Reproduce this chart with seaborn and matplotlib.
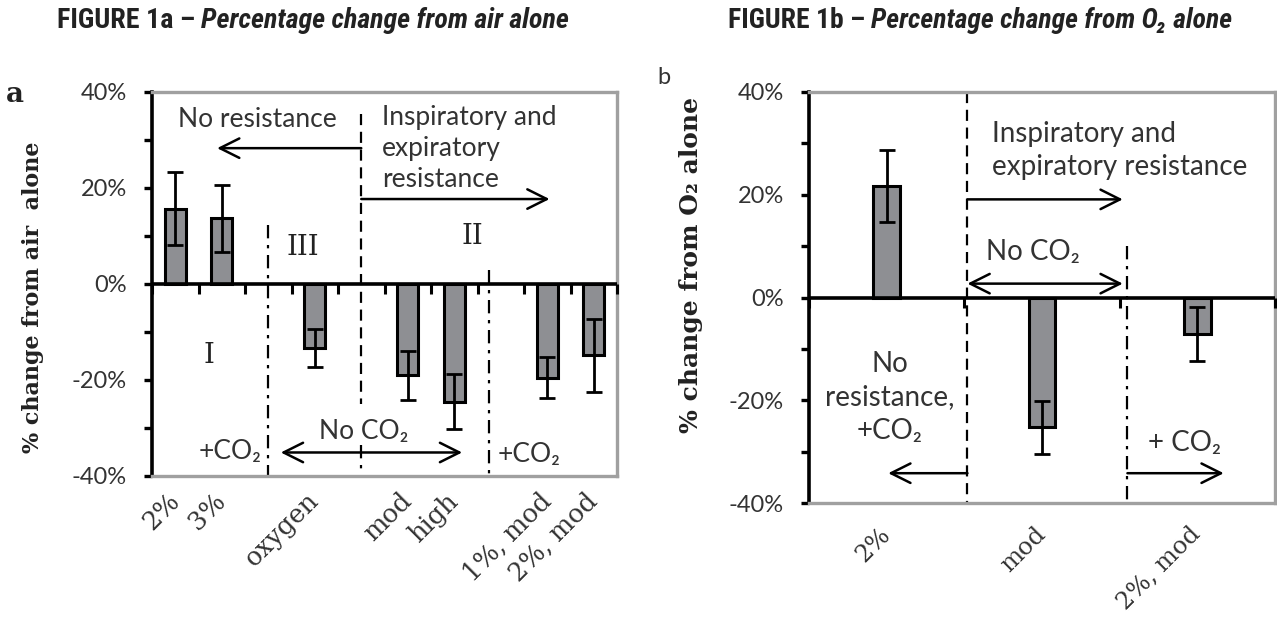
import matplotlib
matplotlib.use("Agg")
import matplotlib.pyplot as plt
import seaborn as sns
import numpy as np
import pandas as pd
from matplotlib.ticker import MultipleLocator, FuncFormatter
from matplotlib import font_manager as fm

# ---------------- data ----------------
a_categories = ["2%", "3%", "oxygen", "mod", "high", "1%, mod", "2%, mod"]
a_values = [15.7, 13.7, -13.3, -19.0, -24.5, -19.5, -14.8]
a_errors = [7.6, 7.0, 3.9, 5.1, 5.7, 4.3, 7.6]
a_order = ["2%", "3%", " ", "oxygen", "  ", "mod", "high", "   ", "1%, mod", "2%, mod"]

b_categories = ["2%", "mod", "2%, mod"]
b_values = [21.7, -25.3, -7.1]
b_errors = [7.1, 5.1, 5.2]
b_order = ["2%", "mod", "2%, mod"]

y_ticks = [-40, -20, 0, 20, 40]

# ---------------- style ----------------
sns.set_theme(style="white")
SANS = ["Lato", "DejaVu Sans"]
SERIF = ["DejaVu Serif"]
installed = {f.name for f in fm.fontManager.ttflist}
NARROW = [n for n in ["Roboto Condensed", "Liberation Sans Narrow", "Arial Narrow"] if n in installed]
NARROW = NARROW + ["Liberation Sans", "DejaVu Sans"]
plt.rcParams["font.family"] = SANS
BAR = "#8e8f93"
GRAY = "#a0a0a0"
TXT = "#333333"

W, H = 1277, 617
fig = plt.figure(figsize=(W / 100, H / 100), dpi=100)
axA = fig.add_axes([152 / W, 1 - 476 / H, 465 / W, 384 / H])
axB = fig.add_axes([809 / W, 1 - 503 / H, 466 / W, 411 / H])


def panel(ax, cats, vals, errs, order, width, ylabel, ylab_x, ylab_y, ylab_size,
          xpad, xsize):
    df = pd.DataFrame({"cat": cats, "val": vals})
    sns.barplot(data=df, x="cat", y="val", order=order, color=BAR, width=width,
                edgecolor="black", linewidth=2.2, errorbar=None, saturation=1,
                ax=ax, zorder=3)
    xs = [order.index(c) for c in cats]
    ax.errorbar(xs, vals, yerr=errs, fmt="none", ecolor="black", elinewidth=2,
                capsize=6, capthick=2, zorder=5)
    n = len(order)
    ax.set_xlim(-0.5, n - 0.5)
    ax.set_ylim(-40, 40)
    ax.set_xlabel("")
    ax.set_ylabel(ylabel, family=SERIF, weight="bold", fontsize=ylab_size, color="#222222")
    ax.yaxis.set_label_coords(ylab_x, ylab_y)
    for s in ["top", "right", "bottom"]:
        ax.spines[s].set_color(GRAY)
        ax.spines[s].set_linewidth(2.4)
    ax.spines["left"].set_color("black")
    ax.spines["left"].set_linewidth(2.6)
    ax.axhline(0, color="black", lw=2.6, zorder=4)
    # tick marks on the zero line at category boundaries
    bounds = np.arange(n + 1) - 0.5
    ax.plot(bounds, np.zeros_like(bounds), ls="none", marker=3, markersize=7,
            mew=2.2, color="black", zorder=4, clip_on=False)
    ax.set_yticks(y_ticks)
    ax.yaxis.set_minor_locator(MultipleLocator(10))
    ax.yaxis.set_major_formatter(FuncFormatter(lambda v, p: f"{v:.0f}%"))
    ax.tick_params(axis="y", which="both", left=True, direction="out", length=6,
                   width=2.4, color="black", labelsize=17, labelcolor=TXT, pad=12)
    ax.tick_params(axis="x", length=0, pad=xpad)
    for lab in ax.get_xticklabels():
        lab.set_rotation(45)
        lab.set_ha("right")
        lab.set_va("center")
        lab.set_rotation_mode("anchor")
        lab.set_family(SERIF)
        lab.set_fontsize(xsize)
        lab.set_color(TXT)
    ax.grid(False)


panel(axA, a_categories, a_values, a_errors, a_order, 0.45,
      "% change from air  alone", -0.232, 0.466, 16, 15, 18.5)
panel(axB, b_categories, b_values, b_errors, b_order, 0.17,
      "% change from O\u2082 alone", -0.227, 0.579, 18, 20, 17.5)

DASH = (0, (5, 3))
DASHDOT = (0, (6, 3, 1.5, 3))
ARR = dict(arrowstyle="->,head_length=0.7,head_width=0.35", lw=1.8, color="black",
           shrinkA=0, shrinkB=0, mutation_scale=20)
ARR2 = dict(ARR, arrowstyle="<->,head_length=0.7,head_width=0.35")
tk = dict(color=TXT, fontsize=19, family=SANS)
tkb = dict(color=TXT, fontsize=20, family=SANS)
rk = dict(color="#222222", fontsize=20, family=SERIF)

# ---- panel a annotations ----
axA.plot([2, 2], [12.3, -40], color="black", lw=1.6, ls=DASHDOT)
axA.plot([4, 4], [35.5, -25], color="black", lw=1.6, ls=DASH)
axA.plot([4, 4], [-33.5, -40], color="black", lw=1.6, ls=DASHDOT)
axA.plot([6.75, 6.75], [3, -40], color="black", lw=1.6, ls=DASHDOT)
axA.annotate("", xy=(0.9, 28.3), xytext=(4, 28.3), arrowprops=ARR)
axA.annotate("", xy=(8.05, 17.7), xytext=(4, 17.7), arrowprops=ARR)
axA.annotate("", xy=(2.27, -35.1), xytext=(6.17, -35.1), arrowprops=ARR2)
axA.text(1.76, 34.3, "No resistance", ha="center", va="center", **tk)
axA.text(4.45, 37.3, "Inspiratory and\nexpiratory\nresistance", ha="left", va="top",
         linespacing=1.3, **tk)
axA.text(2.75, 7.7, "III", ha="center", va="center", **rk)
axA.text(6.4, 9.8, "II", ha="center", va="center", **rk)
axA.text(0.73, -14.8, "I", ha="center", va="center", **rk)
axA.text(1.18, -35.0, "+CO\u2082", ha="center", va="center", **tk)
axA.text(4.05, -30.8, "No CO\u2082", ha="center", va="center", **tk)
axA.text(7.6, -35.5, "+CO\u2082", ha="center", va="center", **tk)

# ---- panel b annotations ----
axB.plot([0.52, 0.52], [40, -40], color="black", lw=1.6, ls=DASH)
axB.plot([1.55, 1.55], [10, -40], color="black", lw=1.6, ls=DASHDOT)
axB.annotate("", xy=(1.52, 19.1), xytext=(0.52, 19.1), arrowprops=ARR)
axB.annotate("", xy=(0.52, 2.7), xytext=(1.52, 2.7), arrowprops=ARR2)
axB.annotate("", xy=(0.01, -34.2), xytext=(0.52, -34.2), arrowprops=ARR)
axB.annotate("", xy=(2.17, -34.2), xytext=(1.55, -34.2), arrowprops=ARR)
axB.text(0.68, 28.6, "Inspiratory and\nexpiratory resistance", ha="left", va="center",
         linespacing=1.35, **tkb)
axB.text(0.94, 8.8, "No CO\u2082", ha="center", va="center", **tkb)
axB.text(0.02, -19.4, "No\nresistance,\n+CO\u2082", ha="center", va="center",
         linespacing=1.35, **tkb)
axB.text(1.92, -28.3, "+ CO\u2082", ha="center", va="center", **tkb)

# ---- titles and panel letters ----
renderer = fig.canvas.get_renderer()


def title(x, y, target_right, bold_part, ital_part):
    size = 19
    parts = []
    for _ in range(2):
        for p in parts:
            p.remove()
        t1 = fig.text(x / W, 1 - y / H, bold_part, ha="left", va="center",
                      family=NARROW, weight="bold", fontsize=size, color="#222222")
        bb = t1.get_window_extent(renderer=renderer)
        t2 = fig.text((bb.x1 + 0.3 * size) / W, 1 - y / H, ital_part, ha="left",
                      va="center", family=NARROW, weight="bold", style="italic",
                      fontsize=size, color="#222222")
        parts = [t1, t2]
        right = t2.get_window_extent(renderer=renderer).x1
        size = size * (target_right - x) / (right - x)


title(57, 21, 570, "FIGURE 1a \u2013", "Percentage change from air alone")
title(728, 21, 1232, "FIGURE 1b \u2013", "Percentage change from O\u2082 alone")

fig.text(15 / W, 1 - 95 / H, "a", family=SERIF, weight="bold", fontsize=20,
         ha="center", va="center", color="#222222")
fig.text(664 / W, 1 - 77 / H, "b", family=SANS, fontsize=17, ha="center", va="center",
         color=TXT)

fig.savefig("out.png", dpi=100)
